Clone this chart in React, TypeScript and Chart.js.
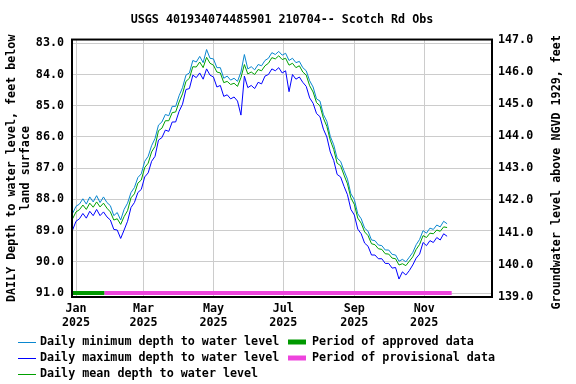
import React, { useEffect, useRef } from "react";
import { Chart, registerables } from "chart.js";

Chart.register(...registerables);

const TITLE = "USGS 401934074485901 210704-- Scotch Rd Obs";
const LEFT_TITLE = ["DAILY Depth to water level, feet below", "land surface"];
const RIGHT_TITLE = "Groundwater level above NGVD 1929, feet";

// day-of-year 2025 (0 = Jan 1) of first sample, spacing in days
const START_DAY = -3;
const STEP_DAYS = 3;

const dailyMean = [
  88.62, 88.4, 88.33, 88.18, 88.32, 88.12, 88.25, 88.08, 88.24, 88.12,
  88.28, 88.4, 88.66, 88.62, 88.8, 88.55, 88.36, 87.95, 87.82, 87.48,
  87.38, 86.98, 86.84, 86.48, 86.3, 85.8, 85.72, 85.48, 85.48, 85.22,
  85.2, 84.88, 84.62, 84.22, 84.12, 83.75, 83.76, 83.6, 83.78, 83.45,
  83.64, 83.7, 83.92, 83.95, 84.26, 84.22, 84.32, 84.28, 84.38, 84.1,
  83.68, 83.98, 83.92, 84.0, 83.84, 83.88, 83.72, 83.64, 83.46, 83.5,
  83.4, 83.52, 83.48, 83.7, 83.64, 83.78, 83.72, 83.92, 84.02, 84.36,
  84.56, 84.9, 85.0, 85.4, 85.66, 86.1, 86.4, 86.84, 86.92, 87.22,
  87.5, 87.95, 88.16, 88.6, 88.76, 89.04, 89.16, 89.42, 89.45, 89.58,
  89.6, 89.74, 89.75, 89.88, 89.9, 90.1, 90.06, 90.12, 89.98, 89.84,
  89.6, 89.44, 89.16, 89.22, 89.08, 89.1, 88.98, 89.02, 88.88, 88.9,
];

const dailyMin = [
  88.45, 88.22, 88.15, 87.98, 88.15, 87.92, 88.08, 87.88, 88.1, 87.92,
  88.1, 88.2, 88.52, 88.42, 88.66, 88.32, 88.12, 87.78, 87.62, 87.3,
  87.18, 86.78, 86.62, 86.28, 86.05, 85.62, 85.52, 85.28, 85.32, 85.02,
  85.02, 84.68, 84.42, 84.02, 83.95, 83.55, 83.6, 83.42, 83.62, 83.2,
  83.48, 83.5, 83.78, 83.78, 84.12, 84.05, 84.18, 84.12, 84.22, 83.92,
  83.36, 83.82, 83.75, 83.85, 83.68, 83.72, 83.55, 83.48, 83.3, 83.36,
  83.26, 83.38, 83.32, 83.55, 83.48, 83.62, 83.58, 83.78, 83.88, 84.2,
  84.4, 84.78, 84.85, 85.28, 85.5, 85.98, 86.25, 86.68, 86.78, 87.08,
  87.35, 87.82, 88.0, 88.46, 88.62, 88.92, 89.02, 89.3, 89.32, 89.46,
  89.48, 89.62, 89.62, 89.76, 89.78, 89.98, 89.92, 90.0, 89.85, 89.7,
  89.45, 89.28, 89.0, 89.08, 88.92, 88.96, 88.82, 88.88, 88.7, 88.78,
];

const dailyMax = [
  88.98, 88.7, 88.62, 88.45, 88.6, 88.38, 88.52, 88.32, 88.52, 88.4,
  88.56, 88.66, 88.96, 88.98, 89.25, 88.98, 88.7, 88.26, 88.1, 87.78,
  87.68, 87.28, 87.15, 86.78, 86.62, 86.1, 86.02, 85.78, 85.82, 85.52,
  85.52, 85.18, 84.95, 84.48, 84.45, 84.02, 84.1, 83.95, 84.15, 83.82,
  84.02, 84.08, 84.4, 84.35, 84.7, 84.65, 84.78, 84.72, 84.85, 85.3,
  84.05, 84.42, 84.35, 84.45, 84.25, 84.3, 84.05, 84.0, 83.82, 83.88,
  83.78, 83.95, 83.88, 84.55, 84.0, 84.15, 84.08, 84.25, 84.38, 84.75,
  84.92, 85.25, 85.35, 85.75, 86.0, 86.48, 86.75, 87.2, 87.28, 87.58,
  87.85, 88.32, 88.5, 88.95, 89.1, 89.4, 89.5, 89.78, 89.78, 89.9,
  89.9, 90.05, 90.05, 90.2, 90.18, 90.55, 90.32, 90.42, 90.28, 90.1,
  89.88, 89.75, 89.38, 89.48, 89.32, 89.38, 89.22, 89.3, 89.1, 89.18,
];

// periods (day-of-year start, end)
const approvedPeriod = [-3.5, 24.7];
const provisionalPeriod = [24.7, 328];
const periodLevel = 91.0;

const xMin = -3.5;
const xMax = 363.2;
const monthTickDays = [0, 59, 120, 181, 243, 304];
const monthTickLabels = ["Jan", "Mar", "May", "Jul", "Sep", "Nov"];
const yearLabel = "2025";
const leftTickValues = [83, 84, 85, 86, 87, 88, 89, 90, 91];
const leftMin = 82.88;
const leftMax = 91.125;
const rightMin = 139;
const rightMax = 147;

const legendRows = [
  ["Daily minimum depth to water level", "Period of approved data"],
  ["Daily maximum depth to water level", "Period of provisional data"],
  ["Daily mean depth to water level", ""],
];

const COLOR_MIN = "#0a87cf";
const COLOR_MAX = "#0000ff";
const COLOR_MEAN = "#00a000";
const COLOR_APPROVED = "#009900";
const COLOR_PROVISIONAL = "#ee44dd";

const FAMILY = "'DejaVu Sans Mono', 'Liberation Mono', monospace";
const FONT = { family: FAMILY, size: 11.7, weight: "bold" as const, lineHeight: 1.2 };
const FONT_CSS = `bold 11.7px ${FAMILY}`;

const toPoints = (arr: number[]) =>
  arr.map((v, i) => ({ x: START_DAY + i * STEP_DAYS, y: v }));

const framePlugin = {
  id: "frameAndExtras",
  afterDatasetsDraw(chart: any) {
    const { ctx, chartArea } = chart;
    ctx.save();
    ctx.strokeStyle = "#000";
    ctx.lineWidth = 2;
    ctx.strokeRect(chartArea.left, chartArea.top, chartArea.right - chartArea.left, chartArea.bottom - chartArea.top);
    ctx.restore();
  },
  afterDraw(chart: any) {
    const { ctx, chartArea } = chart;
    ctx.save();
    ctx.font = FONT_CSS;
    ctx.fillStyle = "#000";
    // right axis title, reading bottom-to-top
    ctx.translate(557, (chartArea.top + chartArea.bottom) / 2 + 4);
    ctx.rotate(-Math.PI / 2);
    ctx.textAlign = "center";
    ctx.textBaseline = "middle";
    ctx.fillText(RIGHT_TITLE, 0, 0);
    ctx.restore();

    // legend
    const ds = chart.data.datasets;
    const col1 = [ds[1], ds[2], ds[0]];
    const col2 = [ds[3], ds[4]];
    ctx.save();
    ctx.font = FONT_CSS;
    ctx.textBaseline = "middle";
    ctx.textAlign = "left";
    const rowY0 = chartArea.bottom + 45;
    const rowStep = 16;
    legendRows.forEach((row, r) => {
      const y = rowY0 + r * rowStep;
      if (row[0]) {
        const d = col1[r];
        ctx.strokeStyle = d.borderColor;
        ctx.lineWidth = 1;
        ctx.beginPath();
        ctx.moveTo(18, y + 0.5);
        ctx.lineTo(36, y + 0.5);
        ctx.stroke();
        ctx.fillStyle = "#000";
        ctx.fillText(row[0], 40, y);
      }
      if (row[1]) {
        const d = col2[r];
        ctx.strokeStyle = d.borderColor;
        ctx.lineWidth = 5;
        ctx.beginPath();
        ctx.moveTo(288, y);
        ctx.lineTo(306, y);
        ctx.stroke();
        ctx.fillStyle = "#000";
        ctx.fillText(row[1], 312, y);
      }
    });
    ctx.restore();
  },
};

export default function App() {
  const ref = useRef<HTMLCanvasElement | null>(null);

  useEffect(() => {
    if (!ref.current) return;
    const lineDs = (label: string, data: number[], color: string, order: number) => ({
      label,
      data: toPoints(data),
      borderColor: color,
      backgroundColor: color,
      borderWidth: 1,
      pointRadius: 0,
      tension: 0,
      fill: false,
      yAxisID: "y",
      order,
    });
    const periodDs = (label: string, period: number[], color: string) => ({
      label,
      data: period.map((x) => ({ x, y: periodLevel })),
      borderColor: color,
      backgroundColor: color,
      borderWidth: 4,
      pointRadius: 0,
      fill: false,
      yAxisID: "y",
      order: 5,
    });

    const chart = new Chart(ref.current, {
      type: "line",
      data: {
        datasets: [
          lineDs("Daily mean depth to water level", dailyMean, COLOR_MEAN, 0),
          lineDs("Daily minimum depth to water level", dailyMin, COLOR_MIN, 2),
          lineDs("Daily maximum depth to water level", dailyMax, COLOR_MAX, 1),
          periodDs("Period of approved data", approvedPeriod, COLOR_APPROVED),
          periodDs("Period of provisional data", provisionalPeriod, COLOR_PROVISIONAL),
        ] as any,
      },
      options: {
        responsive: false,
        maintainAspectRatio: false,
        animation: false,
        layout: { padding: { left: 0, right: 0, top: 0, bottom: 47 } },
        plugins: {
          legend: { display: false },
          tooltip: { enabled: false },
          title: {
            display: true,
            text: TITLE,
            color: "#000",
            font: FONT,
            fullSize: false,
            padding: { top: 13, bottom: 12.5 },
          },
        },
        scales: {
          x: {
            type: "linear",
            min: xMin,
            max: xMax,
            afterBuildTicks: (s: any) => {
              s.ticks = monthTickDays.map((v) => ({ value: v }));
            },
            afterFit: (s: any) => {
              s.height = 40;
            },
            ticks: {
              autoSkip: false,
              maxRotation: 0,
              color: "#000",
              font: FONT,
              padding: 5,
              callback: (v: any) => {
                const i = monthTickDays.indexOf(Number(v));
                return i >= 0 ? [monthTickLabels[i], yearLabel] : "";
              },
            },
            grid: { color: "#cccccc", lineWidth: 1, drawTicks: false },
            border: { display: false },
          },
          y: {
            type: "linear",
            position: "left",
            reverse: true,
            min: leftMin,
            max: leftMax,
            afterBuildTicks: (s: any) => {
              s.ticks = leftTickValues.map((v) => ({ value: v }));
            },
            afterFit: (s: any) => {
              s.width = 72;
            },
            ticks: {
              color: "#000",
              font: FONT,
              padding: 8,
              callback: (v: any) => Number(v).toFixed(1),
            },
            grid: { color: "#cccccc", lineWidth: 1, drawTicks: false },
            border: { display: false },
            title: {
              display: true,
              text: LEFT_TITLE,
              color: "#000",
              font: FONT,
              padding: { top: 5, bottom: 0 },
            },
          },
          y2: {
            type: "linear",
            position: "right",
            min: rightMin,
            max: rightMax,
            afterFit: (s: any) => {
              s.width = 84;
            },
            ticks: {
              stepSize: 1,
              color: "#000",
              font: FONT,
              padding: 6,
              callback: (v: any) => Number(v).toFixed(1),
            },
            grid: { display: false, drawTicks: false },
            border: { display: false },
          },
        },
      },
      plugins: [framePlugin],
    } as any);

    return () => chart.destroy();
  }, []);

  return (
    <div style={{ position: "fixed", left: 0, top: 0, width: 576, height: 384, background: "#fff" }}>
      <canvas ref={ref} width={576} height={384} style={{ width: 576, height: 384 }} />
    </div>
  );
}
